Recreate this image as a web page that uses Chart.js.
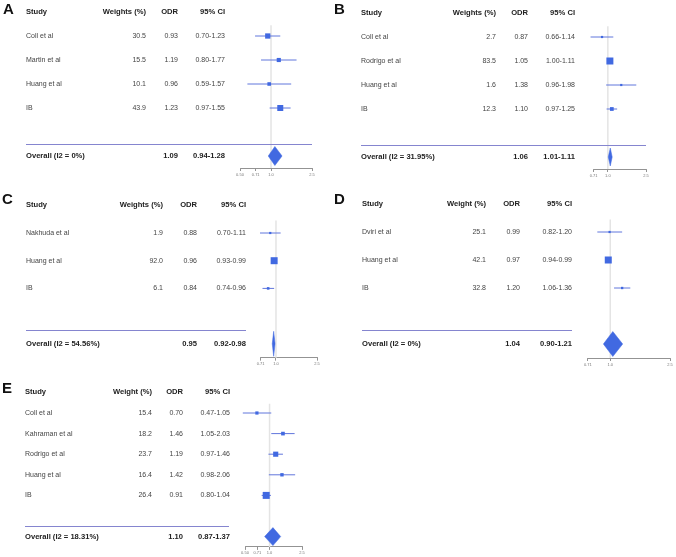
<!DOCTYPE html>
<html><head><meta charset="utf-8">
<script src="https://cdn.jsdelivr.net/npm/chart.js@4.4.1/dist/chart.umd.min.js"></script>
<style>
html,body{margin:0;padding:0;background:#fff;}
#wrap{position:relative;width:676px;height:557px;overflow:hidden;background:#fff;}
canvas{position:absolute;left:0;top:0;}
.lbl{position:absolute;font-family:'Liberation Sans',Arial,sans-serif;font-weight:bold;font-size:15px;line-height:15px;color:#111;}
</style></head><body>
<div id="wrap">
<canvas id="cA" width="676" height="557"></canvas>
<canvas id="cB" width="676" height="557"></canvas>
<canvas id="cC" width="676" height="557"></canvas>
<canvas id="cD" width="676" height="557"></canvas>
<canvas id="cE" width="676" height="557"></canvas>
<div class="lbl" style="left:3px;top:1px">A</div>
<div class="lbl" style="left:334px;top:1px">B</div>
<div class="lbl" style="left:2px;top:191px">C</div>
<div class="lbl" style="left:334px;top:191px">D</div>
<div class="lbl" style="left:2px;top:380px">E</div>
</div>
<script>
// ---------- DATA ----------
const studiesA = ['Coll et al','Martin et al','Huang et al','IB'];
const weightsA = [30.5, 15.5, 10.1, 43.9];
const odrA = [0.93, 1.19, 0.96, 1.23];
const ciLowA = [0.70, 0.80, 0.59, 0.97];
const ciHighA = [1.23, 1.77, 1.57, 1.55];
const overallLabelA = 'Overall (I2 = 0%)';
const overallA = [1.09, 0.94, 1.28];
const ticksA = [0.50, 0.71, 1.0, 2.5];
const tickLabelsA = ['0.50','0.71','1.0','2.5'];

const studiesB = ['Coll et al','Rodrigo et al','Huang et al','IB'];
const weightsB = [2.7, 83.5, 1.6, 12.3];
const odrB = [0.87, 1.05, 1.38, 1.10];
const ciLowB = [0.66, 1.00, 0.96, 0.97];
const ciHighB = [1.14, 1.11, 1.98, 1.25];
const overallLabelB = 'Overall (I2 = 31.95%)';
const overallB = [1.06, 1.01, 1.11];
const ticksB = [0.71, 1.0, 2.5];
const tickLabelsB = ['0.71','1.0','2.5'];

const studiesC = ['Nakhuda et al','Huang et al','IB'];
const weightsC = [1.9, 92.0, 6.1];
const odrC = [0.88, 0.96, 0.84];
const ciLowC = [0.70, 0.93, 0.74];
const ciHighC = [1.11, 0.99, 0.96];
const overallLabelC = 'Overall (I2 = 54.56%)';
const overallC = [0.95, 0.92, 0.98];
const ticksC = [0.71, 1.0, 2.5];
const tickLabelsC = ['0.71','1.0','2.5'];

const studiesD = ['Dviri et al','Huang et al','IB'];
const weightsD = [25.1, 42.1, 32.8];
const odrD = [0.99, 0.97, 1.20];
const ciLowD = [0.82, 0.94, 1.06];
const ciHighD = [1.20, 0.99, 1.36];
const overallLabelD = 'Overall (I2 = 0%)';
const overallD = [1.04, 0.90, 1.21];
const ticksD = [0.71, 1.0, 2.5];
const tickLabelsD = ['0.71','1.0','2.5'];

const studiesE = ['Coll et al','Kahraman et al','Rodrigo et al','Huang et al','IB'];
const weightsE = [15.4, 18.2, 23.7, 16.4, 26.4];
const odrE = [0.70, 1.46, 1.19, 1.42, 0.91];
const ciLowE = [0.47, 1.05, 0.97, 0.98, 0.80];
const ciHighE = [1.05, 2.03, 1.46, 2.06, 1.04];
const overallLabelE = 'Overall (I2 = 18.31%)';
const overallE = [1.10, 0.87, 1.37];
const ticksE = [0.50, 0.71, 1.0, 2.5];
const tickLabelsE = ['0.50','0.71','1.0','2.5'];

const headersWeights = 'Weights (%)';
const headersWeight = 'Weight (%)';

// ---------- STYLE / LAYOUT ----------
const FONT = "'Liberation Sans', Arial, Helvetica, sans-serif";
const BLUE = '#4169E1';
const CI_COLOR = '#6176dc';
const SEP_COLOR = '#8585cf';
const REF_COLOR = '#e4e4e4';
const AXH = 12;

function panel(canvasId, d, cfg) {
  const n = d.studies.length;
  const yMin = -0.45, yMax = n + 1.5;
  const top = cfg.row0 + yMin * cfg.step;
  const bottom = cfg.row0 + yMax * cfg.step;
  const prec = d.lo.map((l, i) => 1 / (Math.log(d.hi[i]) - Math.log(l)));
  const pmax = Math.max(...prec);
  const radii = prec.map(p => Math.max(cfg.maxBox * Math.pow(p / pmax, 0.7), 2.2) / Math.SQRT2);
  const datasets = [];
  datasets.push({data: [{x: 1, y: yMin}, {x: 1, y: yMax}], showLine: true, borderColor: REF_COLOR,
    borderWidth: 1.5, pointRadius: 0, clip: false, order: 10});
  d.studies.forEach((s, i) => datasets.push({data: [{x: d.lo[i], y: i}, {x: d.hi[i], y: i}], showLine: true,
    borderColor: CI_COLOR, borderWidth: 1, pointRadius: 0, clip: false, order: 5}));
  datasets.push({data: d.odr.map((v, i) => ({x: v, y: i})), showLine: false, pointStyle: 'rect',
    pointRadius: radii, backgroundColor: BLUE, borderWidth: 0, clip: false, order: 1});
  const yo = n + 1, h = cfg.diamondH / cfg.step;
  datasets.push({data: [{x: d.ov[1], y: yo}, {x: d.ov[0], y: yo - h}, {x: d.ov[2], y: yo}, {x: d.ov[0], y: yo + h}, {x: d.ov[1], y: yo}],
    showLine: true, fill: 'shape', backgroundColor: BLUE, borderColor: BLUE, borderWidth: 0.5,
    pointRadius: 0, tension: 0, clip: false, order: 1});

  const tablePlugin = {
    id: 'tbl' + canvasId,
    afterDraw(chart) {
      const c = chart.ctx, ys = chart.scales.y;
      c.save();
      c.textBaseline = 'middle';
      const col = cfg.cols;
      // header
      c.font = 'bold 7.6px ' + FONT; c.fillStyle = '#222';
      const hy = ys.getPixelForValue(-1);
      c.textAlign = 'left'; c.fillText('Study', col[0], hy);
      c.textAlign = 'right';
      c.fillText(d.wHeader, col[1], hy);
      c.fillText('ODR', col[2], hy);
      c.fillText('95% CI', col[3], hy);
      // rows
      c.font = '7px ' + FONT; c.fillStyle = '#444';
      d.studies.forEach((s, i) => {
        const y = ys.getPixelForValue(i);
        c.textAlign = 'left'; c.fillText(s, col[0], y);
        c.textAlign = 'right';
        c.fillText(d.w[i].toFixed(1), col[1], y);
        c.fillText(d.odr[i].toFixed(2), col[2], y);
        c.fillText(d.lo[i].toFixed(2) + '-' + d.hi[i].toFixed(2), col[3], y);
      });
      // separator
      const sy = Math.round(ys.getPixelForValue(n + 0.5)) + 0.5;
      c.strokeStyle = SEP_COLOR; c.lineWidth = 1.2;
      c.beginPath(); c.moveTo(cfg.sep[0], sy); c.lineTo(cfg.sep[1], sy); c.stroke();
      // overall row
      const oy = ys.getPixelForValue(n + 1);
      c.font = 'bold 7.6px ' + FONT; c.fillStyle = '#222';
      c.textAlign = 'left'; c.fillText(d.ovLabel, col[0], oy);
      c.textAlign = 'right';
      c.fillText(d.ov[0].toFixed(2), col[2], oy);
      c.fillText(d.ov[1].toFixed(2) + '-' + d.ov[2].toFixed(2), col[3], oy);
      c.restore();
    }
  };

  return new Chart(document.getElementById(canvasId), {
    type: 'scatter',
    data: {datasets},
    options: {
      responsive: false, animation: false, events: [], devicePixelRatio: 1,
      layout: {padding: {left: cfg.left, right: 676 - cfg.right, top: top, bottom: 557 - bottom - AXH}},
      plugins: {legend: {display: false}, tooltip: {enabled: false}},
      scales: {
        x: {type: 'logarithmic', min: d.ticks[0], max: d.ticks[d.ticks.length - 1],
          afterBuildTicks: s => { s.ticks = d.ticks.map(v => ({value: v})); },
          afterFit: s => { s.height = AXH; },
          ticks: {callback: (v, i) => d.tickLabels[i], font: {size: 4, family: FONT}, color: '#777',
            padding: 1, maxRotation: 0, minRotation: 0, autoSkip: false},
          grid: {drawOnChartArea: false, tickLength: 3, color: '#777', tickColor: '#777', lineWidth: 0.8},
          border: {display: true, color: '#777', width: 0.8}},
        y: {type: 'linear', display: false, reverse: true, min: yMin, max: yMax}
      }
    },
    plugins: [tablePlugin]
  });
}

panel('cA', {studies: studiesA, w: weightsA, odr: odrA, lo: ciLowA, hi: ciHighA, ovLabel: overallLabelA, ov: overallA,
  ticks: ticksA, tickLabels: tickLabelsA, wHeader: headersWeights},
  {row0: 36, step: 24, left: 240, right: 312, cols: [26, 146, 178, 225], sep: [26, 312], diamondH: 9.5, maxBox: 6});
panel('cB', {studies: studiesB, w: weightsB, odr: odrB, lo: ciLowB, hi: ciHighB, ovLabel: overallLabelB, ov: overallB,
  ticks: ticksB, tickLabels: tickLabelsB, wHeader: headersWeights},
  {row0: 37, step: 24, left: 593, right: 646, cols: [361, 496, 528, 575], sep: [361, 646], diamondH: 9, maxBox: 7});
panel('cC', {studies: studiesC, w: weightsC, odr: odrC, lo: ciLowC, hi: ciHighC, ovLabel: overallLabelC, ov: overallC,
  ticks: ticksC, tickLabels: tickLabelsC, wHeader: headersWeights},
  {row0: 233, step: 27.7, left: 260, right: 317, cols: [26, 163, 197, 246], sep: [26, 246], diamondH: 12.5, maxBox: 7});
panel('cD', {studies: studiesD, w: weightsD, odr: odrD, lo: ciLowD, hi: ciHighD, ovLabel: overallLabelD, ov: overallD,
  ticks: ticksD, tickLabels: tickLabelsD, wHeader: headersWeight},
  {row0: 232, step: 28, left: 587, right: 670, cols: [362, 486, 520, 572], sep: [362, 572], diamondH: 12.5, maxBox: 7});
panel('cE', {studies: studiesE, w: weightsE, odr: odrE, lo: ciLowE, hi: ciHighE, ovLabel: overallLabelE, ov: overallE,
  ticks: ticksE, tickLabels: tickLabelsE, wHeader: headersWeight},
  {row0: 413, step: 20.6, left: 245, right: 302, cols: [25, 152, 183, 230], sep: [25, 229], diamondH: 9, maxBox: 7});
</script>
</body></html>
